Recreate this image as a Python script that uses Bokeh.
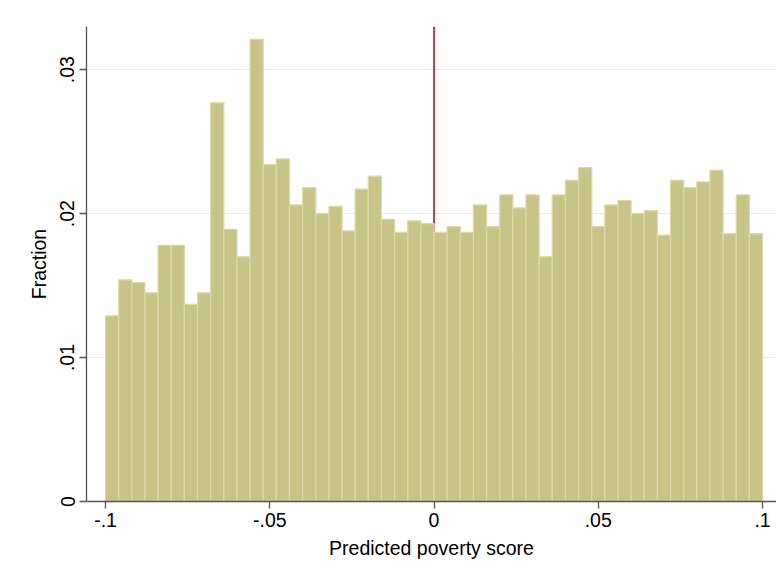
import numpy as np
from bokeh.plotting import figure
from bokeh.models import Range1d, FixedTicker
from bokeh.embed import file_html
from bokeh.resources import INLINE

# Histogram: 50 bins of width 0.004 from -0.1 to 0.1
bin_start = -0.1
bin_width = 0.004
fractions = [
    0.0129, 0.0154, 0.0152, 0.0145, 0.0178, 0.0178, 0.0137, 0.0145, 0.0277, 0.0189,
    0.0170, 0.0321, 0.0234, 0.0238, 0.0206, 0.0218, 0.0200, 0.0205, 0.0188, 0.0217,
    0.0226, 0.0196, 0.0187, 0.0195, 0.0193, 0.0187, 0.0191, 0.0187, 0.0206, 0.0191,
    0.0213, 0.0204, 0.0213, 0.0170, 0.0213, 0.0223, 0.0232, 0.0191, 0.0206, 0.0209,
    0.0200, 0.0202, 0.0185, 0.0223, 0.0218, 0.0222, 0.0230, 0.0186, 0.0213, 0.0186,
]
cutoff = 0.0
x_ticks = [-0.1, -0.05, 0.0, 0.05, 0.1]
x_tick_labels = ["-.1", "-.05", "0", ".05", ".1"]
y_ticks = [0.0, 0.01, 0.02, 0.03]
y_tick_labels = ["0", ".01", ".02", ".03"]

n = len(fractions)
lefts = [bin_start + i * bin_width for i in range(n)]
rights = [l + bin_width for l in lefts]

FONT = "Liberation Sans"

p = figure(width=776, height=561, output_backend="svg", toolbar_location=None,
           x_range=Range1d(-0.1058, 0.10426), y_range=Range1d(0, 0.033),
           min_border_left=86, min_border_right=0, min_border_top=26, min_border_bottom=60)
p.outline_line_color = None
p.background_fill_color = "white"
p.xgrid.visible = False
p.ygrid.grid_line_color = "#e6edf0"
p.ygrid.grid_line_width = 1.2

# cutoff line (drawn under bars)
p.segment(x0=[cutoff], y0=[0], x1=[cutoff], y1=[0.033], line_color="#c43d50", line_width=2)

p.quad(left=lefts, right=rights, bottom=0, top=fractions,
       fill_color="#c8c386", line_color="#dcd8a8", line_width=1.3)

for ax in (p.xaxis[0], p.yaxis[0]):
    ax.axis_line_color = "#555555"
    ax.axis_line_width = 1.3
    ax.major_tick_line_color = "#555555"
    ax.major_tick_line_width = 1.3
    ax.major_tick_out = 7
    ax.major_tick_in = 0
    ax.minor_tick_line_color = None
    ax.major_label_text_font = FONT
    ax.major_label_text_font_size = "19.5px"
    ax.major_label_text_color = "black"
    ax.axis_label_text_font = FONT
    ax.axis_label_text_font_size = "19.5px"
    ax.axis_label_text_font_style = "normal"
    ax.axis_label_text_color = "black"

p.xaxis.ticker = FixedTicker(ticks=x_ticks)
p.xaxis.major_label_overrides = {t: l for t, l in zip(x_ticks, x_tick_labels)}
p.xaxis.axis_label = "Predicted poverty score"
p.xaxis.major_label_standoff = 4
p.xaxis.axis_label_standoff = 7

p.yaxis.ticker = FixedTicker(ticks=y_ticks)
p.yaxis.major_label_overrides = {t: l for t, l in zip(y_ticks, y_tick_labels)}
p.yaxis.major_label_orientation = "vertical"
p.yaxis.axis_label = "Fraction"
p.yaxis.major_label_standoff = 5
p.yaxis.axis_label_standoff = 8

open("out.html", "w").write(file_html(p, INLINE))
